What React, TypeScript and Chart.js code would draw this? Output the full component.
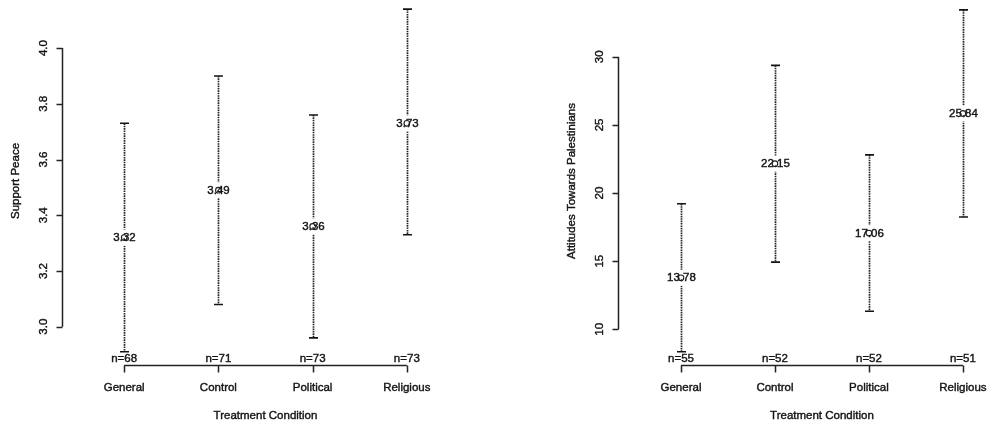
import React, { useEffect, useRef } from "react";
import { Chart, registerables } from "chart.js";

Chart.register(...registerables);

// Treatment groups shared by both panels
const conditions = ["General", "Control", "Political", "Religious"];

// Panel 1: support for peace (means with 95% confidence limits)
const peaceMeans = [3.32, 3.49, 3.36, 3.73];
const peaceLower = [2.91, 3.08, 2.96, 3.33];
const peaceUpper = [3.73, 3.9, 3.76, 4.14];
const peaceN = [68, 71, 73, 73];
const peaceTicks = [3.0, 3.2, 3.4, 3.6, 3.8, 4.0];

// Panel 2: attitudes towards Palestinians
const attitudeMeans = [13.78, 22.15, 17.06, 25.84];
const attitudeLower = [8.35, 14.93, 11.32, 18.24];
const attitudeUpper = [19.21, 29.37, 22.8, 33.44];
const attitudeN = [55, 52, 52, 51];
const attitudeTicks = [10, 15, 20, 25, 30];

const FONT = '11.5px "Liberation Sans", Arial, Helvetica, sans-serif';
const INK = "#141414";

type PanelProps = {
  means: number[];
  lower: number[];
  upper: number[];
  counts: number[];
  yTicks: number[];
  tickDecimals: number;
  yTitle: string;
  yMin: number;
  yMax: number;
  xMin: number;
  xMax: number;
  left: number;
  width: number;
  padding: { left: number; right: number; top: number; bottom: number };
};

// Text with a hairline outline so it reads as heavy as printed type
function inkText(ctx: CanvasRenderingContext2D, s: string, x: number, y: number) {
  ctx.fillText(s, x, y);
  ctx.strokeText(s, x, y);
}

function Panel(p: PanelProps) {
  const ref = useRef<HTMLCanvasElement | null>(null);

  useEffect(() => {
    const canvas = ref.current;
    if (!canvas) return;

    // R-style plotmeans drawing: CI bars, mean labels, sample sizes, range axes
    const plotMeans = {
      id: "plotMeans",
      beforeDatasetsDraw(chart: any) {
        const ctx = chart.ctx as CanvasRenderingContext2D;
        const xs = chart.scales.x;
        const ys = chart.scales.y;
        const area = chart.chartArea;
        ctx.save();
        ctx.font = FONT;
        ctx.textAlign = "center";
        ctx.textBaseline = "middle";

        // confidence interval bars
        for (let i = 0; i < p.means.length; i++) {
          const x = Math.round(xs.getPixelForValue(i + 1)) + 0.5;
          const yTop = ys.getPixelForValue(p.upper[i]);
          const yBot = ys.getPixelForValue(p.lower[i]);
          const yMean = ys.getPixelForValue(p.means[i]);

          ctx.strokeStyle = "#262626";
          ctx.lineWidth = 1.7;
          ctx.setLineDash([1.6, 0.8]);
          ctx.beginPath();
          ctx.moveTo(x, yTop);
          ctx.lineTo(x, yBot);
          ctx.stroke();
          ctx.setLineDash([]);

          ctx.strokeStyle = INK;
          ctx.lineWidth = 1.6;
          ctx.beginPath();
          ctx.moveTo(x - 4.5, yTop);
          ctx.lineTo(x + 4.5, yTop);
          ctx.moveTo(x - 4.5, yBot);
          ctx.lineTo(x + 4.5, yBot);
          ctx.stroke();

          const label = p.means[i].toFixed(2);
          const w = ctx.measureText(label).width;
          ctx.fillStyle = "#ffffff";
          ctx.fillRect(x - w / 2 - 1, yMean - 8, w + 2, 16);
          ctx.fillStyle = INK;
          ctx.lineWidth = 0.4;
          inkText(ctx, label, x, yMean + 0.5);
        }

        // x axis spanning the first to last category
        const axisY = Math.round(area.bottom) + 0.5;
        const x0 = xs.getPixelForValue(1);
        const x1 = xs.getPixelForValue(p.means.length);
        ctx.strokeStyle = "#222222";
        ctx.lineWidth = 1.5;
        ctx.beginPath();
        ctx.moveTo(x0, axisY);
        ctx.lineTo(x1, axisY);
        for (let i = 0; i < conditions.length; i++) {
          const x = Math.round(xs.getPixelForValue(i + 1)) + 0.5;
          ctx.moveTo(x, axisY);
          ctx.lineTo(x, axisY + 7);
        }
        ctx.stroke();

        // y axis spanning the first to last tick
        const axisX = Math.round(area.left) + 0.5;
        const yA = ys.getPixelForValue(p.yTicks[0]);
        const yB = ys.getPixelForValue(p.yTicks[p.yTicks.length - 1]);
        ctx.beginPath();
        ctx.moveTo(axisX, yA);
        ctx.lineTo(axisX, yB);
        for (const t of p.yTicks) {
          const y = Math.round(ys.getPixelForValue(t)) + 0.5;
          ctx.moveTo(axisX, y);
          ctx.lineTo(axisX - 6, y);
        }
        ctx.stroke();

        ctx.fillStyle = INK;
        ctx.strokeStyle = INK;
        ctx.lineWidth = 0.4;
        for (let i = 0; i < conditions.length; i++) {
          const x = xs.getPixelForValue(i + 1);
          inkText(ctx, conditions[i], x, axisY + 22);
          inkText(ctx, "n=" + p.counts[i], x, axisY - 7);
        }
        inkText(ctx, "Treatment Condition", xs.getPixelForValue(2.5), axisY + 50);

        for (const t of p.yTicks) {
          const y = ys.getPixelForValue(t);
          ctx.save();
          ctx.translate(axisX - 19, y);
          ctx.rotate(-Math.PI / 2);
          inkText(ctx, t.toFixed(p.tickDecimals), 0, 0);
          ctx.restore();
        }

        ctx.save();
        ctx.translate(axisX - 47, 181);
        ctx.rotate(-Math.PI / 2);
        inkText(ctx, p.yTitle, 0, 0);
        ctx.restore();

        ctx.restore();
      },
    };

    const chart = new Chart(canvas, {
      type: "scatter",
      data: {
        datasets: [
          {
            data: p.means.map((m, i) => ({ x: i + 1, y: m })),
            pointRadius: 2.8,
            pointBorderWidth: 1.1,
            pointBorderColor: "#1e1e1e",
            pointBackgroundColor: "rgba(0,0,0,0)",
            showLine: false,
            clip: false,
          } as any,
        ],
      },
      options: {
        animation: false,
        responsive: false,
        events: [],
        layout: { padding: p.padding },
        plugins: {
          legend: { display: false },
          tooltip: { enabled: false },
        },
        scales: {
          x: { type: "linear", min: p.xMin, max: p.xMax, display: false },
          y: { type: "linear", min: p.yMin, max: p.yMax, display: false },
        },
      },
      plugins: [plotMeans],
    });

    return () => chart.destroy();
  }, []);

  return (
    <canvas
      ref={ref}
      width={p.width}
      height={423}
      style={{ position: "absolute", left: p.left, top: 0, width: p.width, height: 423 }}
    />
  );
}

export default function App() {
  return (
    <div
      style={{
        position: "fixed",
        left: 0,
        top: 0,
        width: 989,
        height: 423,
        background: "#ffffff",
        overflow: "hidden",
      }}
    >
      <Panel
        means={peaceMeans}
        lower={peaceLower}
        upper={peaceUpper}
        counts={peaceN}
        yTicks={peaceTicks}
        tickDecimals={1}
        yTitle="Support Peace"
        yMin={2.8626}
        yMax={4.1543}
        xMin={0.34}
        xMax={4.66}
        left={0}
        width={494}
        padding={{ left: 62, right: 25, top: 5, bottom: 58 }}
      />
      <Panel
        means={attitudeMeans}
        lower={attitudeLower}
        upper={attitudeUpper}
        counts={attitudeN}
        yTicks={attitudeTicks}
        tickDecimals={0}
        yTitle="Attitudes Towards Palestinians"
        yMin={7.38}
        yMax={33.79}
        xMin={0.3298}
        xMax={4.2234}
        left={494}
        width={495}
        padding={{ left: 124, right: 4, top: 5, bottom: 58 }}
      />
    </div>
  );
}
